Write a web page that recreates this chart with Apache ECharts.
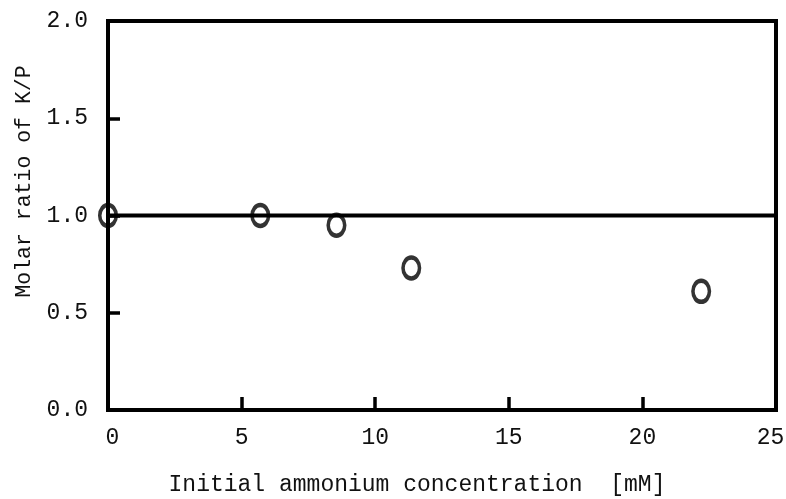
<!DOCTYPE html>
<html>
<head>
<meta charset="utf-8">
<script src="https://cdn.jsdelivr.net/npm/echarts@6/dist/echarts.min.js"></script>
<style>
  html, body { margin: 0; padding: 0; background: #fff; }
  #chart { width: 786px; height: 499px; }
</style>
</head>
<body>
<div id="chart"></div>
<script>
// Initial ammonium concentration (mM) and measured K/P molar ratio
const concentration = [0, 5.7, 8.55, 11.35, 22.2];
const kpRatio = [1.0, 1.0, 0.95, 0.73, 0.61];

// Reference ratio line at K/P = 1
const refX = [0, 25];
const refY = [1.0, 1.0];

const xTicks = [0, 5, 10, 15, 20, 25];
const yTicks = [0.0, 0.5, 1.0, 1.5, 2.0];

const FONT = 'Liberation Mono';
const labelStyle = { fontFamily: FONT, fontSize: 23, color: '#111' };

const chart = echarts.init(document.getElementById('chart'), null, { renderer: 'canvas' });

chart.setOption({
  animation: false,
  backgroundColor: '#ffffff',
  grid: {
    left: 108, right: 10, top: 21, bottom: 89,
    outerBoundsMode: 'none',
    containLabel: false,
    show: true, borderColor: '#000', borderWidth: 4, backgroundColor: 'transparent'
  },
  xAxis: {
    type: 'value',
    min: xTicks[0], max: xTicks[xTicks.length - 1], interval: 5,
    name: 'Initial ammonium concentration  [mM]',
    nameLocation: 'middle',
    nameGap: 63,
    nameTextStyle: { fontFamily: FONT, fontSize: 23, color: '#111', padding: [0, 50, 0, 0] },
    axisLine: { show: true, lineStyle: { color: '#000', width: 4 } },
    axisTick: { show: true, inside: true, length: 13, lineStyle: { color: '#000', width: 3.5 } },
    axisLabel: {
      ...labelStyle, margin: 16,
      // end labels sit slightly inward from the frame corners
      formatter: v => {
        if (v === xTicks[0]) return '{first|' + v + '}';
        if (v === xTicks[xTicks.length - 1]) return '{last|' + v + '}';
        return String(v);
      },
      rich: {
        first: { ...labelStyle, padding: [0, 0, 0, 9] },
        last: { ...labelStyle, padding: [0, 11, 0, 0] }
      }
    },
    splitLine: { show: false }
  },
  yAxis: {
    type: 'value',
    min: yTicks[0], max: yTicks[yTicks.length - 1], interval: 0.5,
    name: 'Molar ratio of K/P',
    nameLocation: 'middle',
    nameGap: 72,
    nameTextStyle: { fontFamily: FONT, fontSize: 21.5, color: '#111', padding: [0, 0, 0, 68] },
    axisLine: { show: true, lineStyle: { color: '#000', width: 4 } },
    axisTick: { show: true, inside: true, length: 12, lineStyle: { color: '#000', width: 3.5 } },
    axisLabel: {
      ...labelStyle, margin: 20,
      formatter: v => v.toFixed(1)
    },
    splitLine: { show: false }
  },
  series: [
    {
      type: 'line',
      data: refX.map((x, i) => [x, refY[i]]),
      showSymbol: false,
      symbol: 'none',
      lineStyle: { color: '#000', width: 4 },
      z: 2
    },
    {
      type: 'scatter',
      data: concentration.map((x, i) => [x, kpRatio[i]]),
      symbol: 'circle',
      symbolSize: [16.5, 21],
      clip: false,
      itemStyle: { color: 'rgba(0,0,0,0)', borderColor: '#000', borderWidth: 4 },
      z: 3
    }
  ]
});
</script>
</body>
</html>
